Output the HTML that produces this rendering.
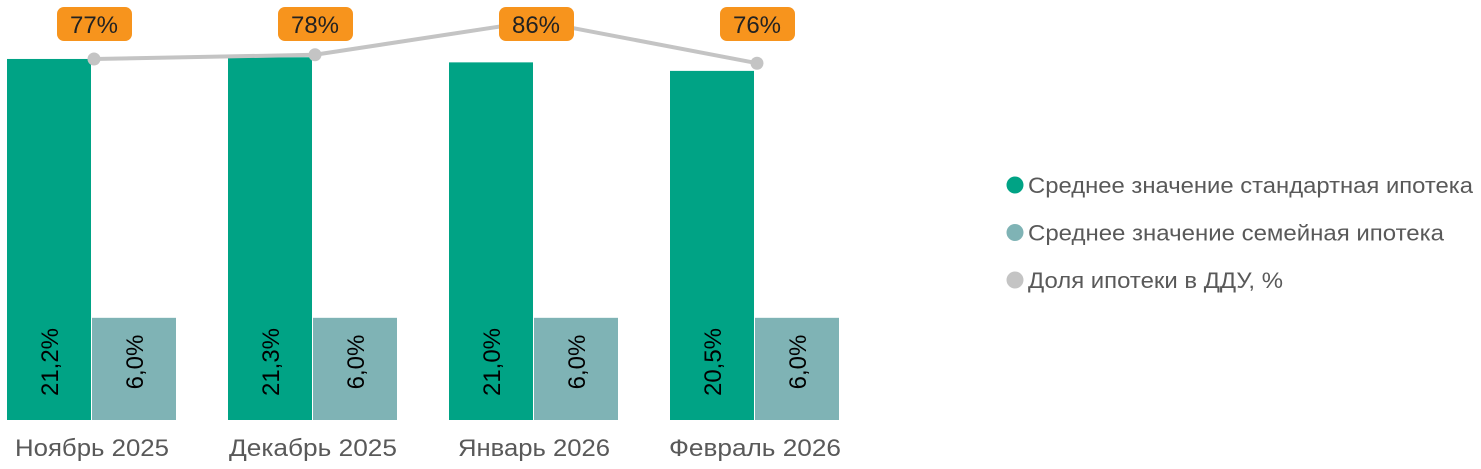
<!DOCTYPE html>
<html><head><meta charset="utf-8">
<style>
html,body{margin:0;padding:0;background:#fff;}
body{width:1481px;height:464px;overflow:hidden;font-family:"Liberation Sans",sans-serif;}
</style></head>
<body>
<svg id="chart" width="1481" height="464" xmlns="http://www.w3.org/2000/svg"></svg>
<script>
const categories = ["Ноябрь 2025","Декабрь 2025","Январь 2026","Февраль 2026"];
const standardRates = [21.2,21.3,21.0,20.5];
const familyRates = [6.0,6.0,6.0,6.0];
const mortgageShare = [77,78,86,76];
const standardLabels = ["21,2%","21,3%","21,0%","20,5%"];
const familyLabels = ["6,0%","6,0%","6,0%","6,0%"];
const legendItems = ["Среднее значение стандартная ипотека","Среднее значение семейная ипотека","Доля ипотеки в ДДУ, %"];
const legendWidths = [445,416,255];
const categoryWidths = [154,168,152,172];

const svg = document.getElementById('chart');
const NS = 'http://www.w3.org/2000/svg';
function mk(tag, attrs, parent){const e=document.createElementNS(NS,tag);for(const k in attrs)e.setAttribute(k,attrs[k]);(parent||svg).appendChild(e);return e;}
const baseY = 420;
function yBar(v){return baseY - v*17.03;}
function yLine(v){return 59 + (77 - v)*4.22;}
function xGroup(i){return 7 + i*221;}
const barW = 84;
const teal="#00a385", fam="#7fb3b5", grey="#c4c4c4", orange="#f7941d";

categories.forEach((c,i)=>{
  const x=xGroup(i);
  const b1=mk('rect',{x:x,y:yBar(standardRates[i]),width:barW,height:baseY-yBar(standardRates[i]),fill:teal});
  
  
  const b2=mk('rect',{x:x+barW+1,y:yBar(familyRates[i]),width:barW,height:baseY-yBar(familyRates[i]),fill:fam});
  
  
  const t1=mk('text',{x:0,y:0,'font-size':24,fill:'#000','text-anchor':'middle',transform:`translate(${x+barW/2+9},362) rotate(-90)`});
  t1.textContent=standardLabels[i];
  
  
  const t2=mk('text',{x:0,y:0,'font-size':24,fill:'#000','text-anchor':'middle',transform:`translate(${x+barW*1.5+10},362) rotate(-90)`});
  t2.textContent=familyLabels[i];
  
  
  const cl=mk('text',{x:x+barW+1,y:456,'font-size':24,fill:'#595959','text-anchor':'middle',textLength:categoryWidths[i],lengthAdjust:'spacingAndGlyphs'});
  cl.textContent=c;
  
  
});
const pts=mortgageShare.map((v,i)=>[xGroup(i)+87,yLine(v)]);
const pl=mk('polyline',{points:pts.map(p=>p.join(',')).join(' '),fill:'none',stroke:grey,'stroke-width':4});


pts.forEach((p,i)=>{
  const c=mk('circle',{cx:p[0],cy:p[1],r:6.5,fill:grey});
  
  
  const r=mk('rect',{x:p[0]-37,y:7,width:75,height:34,rx:7,fill:orange});
  
  
  const t=mk('text',{x:p[0],y:33,'font-size':24,fill:'#222','text-anchor':'middle'});
  t.textContent=mortgageShare[i]+'%';
  
  
});
const lcol=[teal,fam,grey];
legendItems.forEach((s,i)=>{
  const y=185+i*47.5;
  const c=mk('circle',{cx:1015,cy:y,r:8.5,fill:lcol[i]});
  
  
  const t=mk('text',{x:1028,y:y+8,'font-size':22,fill:'#595959',textLength:legendWidths[i],lengthAdjust:'spacingAndGlyphs'});
  t.textContent=s;
  
  
});
</script>
</body></html>
